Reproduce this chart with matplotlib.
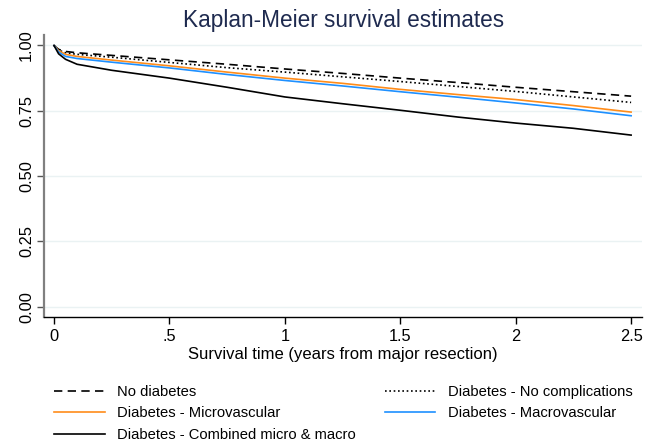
import numpy as np
import matplotlib
matplotlib.use("Agg")
import matplotlib.pyplot as plt

plt.rcParams['font.family'] = ['Liberation Sans', 'DejaVu Sans']

# Survival time (years) and estimated survival for each group
t = [0, 0.02, 0.05, 0.1, 0.25, 0.5, 0.75, 1.0, 1.25, 1.5, 1.75, 2.0, 2.25, 2.5]
no_diab = [1.0, 0.985, 0.977, 0.972, 0.962, 0.945, 0.928, 0.910, 0.893, 0.875, 0.858, 0.840, 0.823, 0.806]
no_compl = [1.0, 0.982, 0.972, 0.966, 0.955, 0.935, 0.915, 0.898, 0.880, 0.862, 0.843, 0.824, 0.803, 0.782]
micro = [1.0, 0.980, 0.966, 0.958, 0.944, 0.922, 0.898, 0.875, 0.855, 0.832, 0.812, 0.793, 0.770, 0.745]
macro = [1.0, 0.975, 0.958, 0.950, 0.936, 0.914, 0.889, 0.866, 0.845, 0.823, 0.802, 0.780, 0.757, 0.731]
combined = [1.0, 0.968, 0.947, 0.928, 0.905, 0.875, 0.840, 0.803, 0.777, 0.752, 0.726, 0.703, 0.683, 0.657]

labels = ["No diabetes", "Diabetes - No complications", "Diabetes - Microvascular",
          "Diabetes - Macrovascular", "Diabetes - Combined micro & macro"]

fig = plt.figure(figsize=(6.64, 4.43), dpi=100)
ax = fig.add_axes([0.066, 0.285, 0.9015, 0.636])

lw = 1.2
h1, = ax.plot(t, no_diab, color="black", lw=lw, dashes=(5, 3.2))
h2, = ax.plot(t, no_compl, color="black", lw=lw, dashes=(1, 1.6))
h3, = ax.plot(t, micro, color="#ff8c1a", lw=lw)
h4, = ax.plot(t, macro, color="#1e90ff", lw=lw)
h5, = ax.plot(t, combined, color="black", lw=lw)

ax.set_xlim(-0.044, 2.549)
ax.set_ylim(-0.038, 1.04)
ax.set_xticks([0, 0.5, 1, 1.5, 2, 2.5])
ax.set_xticklabels(["0", ".5", "1", "1.5", "2", "2.5"])
ax.set_yticks([0, 0.25, 0.5, 0.75, 1.0])
ax.set_yticklabels(["0.00", "0.25", "0.50", "0.75", "1.00"], rotation=90, va="center")
ax.tick_params(labelsize=11.8, length=5, width=1, colors="black")
ax.tick_params(axis="y", color="#555555", pad=2)
ax.tick_params(axis="x", pad=4)
for y in [0, 0.25, 0.5, 0.75, 1.0]:
    ax.axhline(y, color="#eaf2f3", lw=1, zorder=0)

ax.spines["top"].set_visible(False)
ax.spines["right"].set_visible(False)
ax.spines["left"].set_color("#808080")
ax.spines["left"].set_linewidth(1.6)
ax.spines["bottom"].set_color("black")
ax.spines["bottom"].set_linewidth(1.0)

ax.set_title("Kaplan-Meier survival estimates", fontsize=16.3, color="#1e2a4f", pad=6)
ax.set_xlabel("Survival time (years from major resection)", fontsize=12, labelpad=2)

fig.legend([h1, h3, h5, h2, h4],
           [labels[0], labels[2], labels[4], labels[1], labels[3]],
           ncol=2, loc="upper left", bbox_to_anchor=(0.082, 0.131), bbox_transform=fig.transFigure,
           frameon=False, fontsize=10.6, handlelength=3.4, handletextpad=0.85,
           columnspacing=2.0, labelspacing=0.5, borderaxespad=0, borderpad=0)

fig.savefig("out.png", dpi=100)
